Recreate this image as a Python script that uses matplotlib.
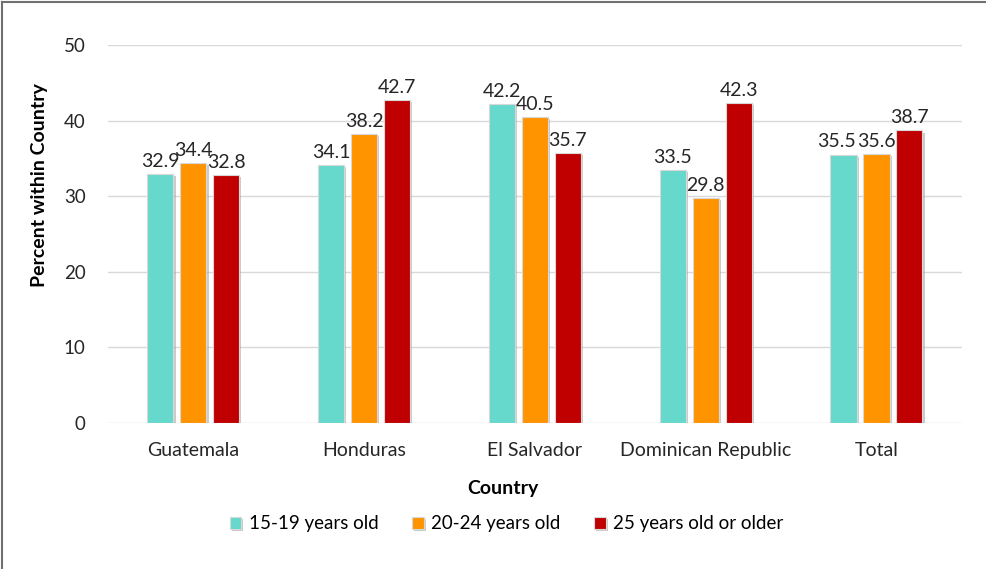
import matplotlib.pyplot as plt
import matplotlib.patheffects as pe
import numpy as np

plt.rcParams['font.family'] = ['Lato', 'DejaVu Sans']

countries = ["Guatemala", "Honduras", "El Salvador", "Dominican Republic", "Total"]
age_groups = ["15-19 years old", "20-24 years old", "25 years old or older"]
v_15_19 = [32.9, 34.1, 42.2, 33.5, 35.5]
v_20_24 = [34.4, 38.2, 40.5, 29.8, 35.6]
v_25_up = [32.8, 42.7, 35.7, 42.3, 38.7]
colors = ["#66D9CC", "#FF9400", "#C00000"]

fig = plt.figure(figsize=(9.86, 5.69), dpi=100)
ax = fig.add_axes([0.1095, 0.2566, 0.866, 0.6643])

x = np.arange(len(countries))
w = 0.153
step = 0.193
shadow = [pe.SimplePatchShadow(offset=(1.5, -1.5), shadow_rgbFace='#999999', alpha=0.5), pe.Normal()]

for i, (vals, c, lab) in enumerate(zip([v_15_19, v_20_24, v_25_up], colors, age_groups)):
    bars = ax.bar(x + (i - 1) * step, vals, w, color=c, label=lab,
                  edgecolor='#d8d8d8', linewidth=0.8, zorder=3)
    for b in bars:
        b.set_path_effects(shadow)
    for j, (xi, v) in enumerate(zip(x + (i - 1) * step, vals)):
        # nudge the first Total label left so it clears its neighbour
        dx = -5 if (i == 0 and j == len(countries) - 1) else 0
        ax.annotate(f"{v:.1f}", (xi, v), xytext=(dx, 3), textcoords='offset points',
                    ha='center', va='bottom', fontsize=14, color='#262626', zorder=4)

ax.set_xlim(-0.5, len(countries) - 0.5)
ax.set_ylim(0, 50)
ax.set_yticks(range(0, 51, 10))
ax.set_xticks(x)
ax.set_xticklabels(countries, fontsize=14, color='#262626')
ax.tick_params(axis='y', labelsize=13.5, colors='#262626', length=0, pad=16)
ax.tick_params(axis='x', length=0, pad=14)
ax.grid(axis='y', color='#d9d9d9', linewidth=1, zorder=0)
for s in ax.spines.values():
    s.set_visible(False)

ax.set_ylabel("Percent within Country", fontsize=14, fontweight='bold')
ax.yaxis.set_label_coords(-0.07, 0.63)
ax.set_xlabel("Country", fontsize=14, fontweight='bold')
ax.xaxis.set_label_coords(0.463, -0.152)

ax.legend(loc='upper center', bbox_to_anchor=(0.467, -0.2), ncol=3, frameon=False,
          fontsize=13.5, handlelength=0.6, handleheight=0.6, handletextpad=0.4, columnspacing=1.8)

# outer frame on the left and top edges
fig.add_artist(plt.Line2D([0.002, 0.002], [0, 0.997], color='#707070', linewidth=1.5))
fig.add_artist(plt.Line2D([0.002, 1.0], [0.997, 0.997], color='#707070', linewidth=1.5))

fig.savefig("out.png", dpi=100)
